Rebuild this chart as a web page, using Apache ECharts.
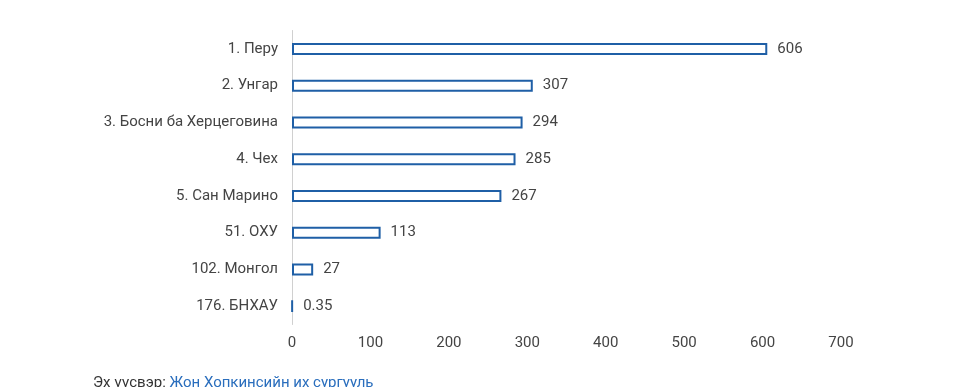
<!DOCTYPE html>
<html><head><meta charset="utf-8">
<script src="https://cdn.jsdelivr.net/npm/echarts@6/dist/echarts.min.js"></script>
<style>html,body{margin:0;padding:0;background:#fff}#c{width:962px;height:387px}</style>
</head><body><div id="c"></div>
<script>
const categories = ["1. Перу","2. Унгар","3. Босни ба Херцеговина","4. Чех","5. Сан Марино","51. ОХУ","102. Монгол","176. БНХАУ"];
const values = [606,307,294,285,267,113,27,0.35];
const xTicks = [0,100,200,300,400,500,600,700];

const chart = echarts.init(document.getElementById('c'));
chart.setOption({
  animation:false,
  grid:{left:292,right:121,top:30.5,bottom:62.5,containLabel:false},
  xAxis:{type:'value',min:xTicks[0],max:xTicks[xTicks.length-1],interval:100,
    axisLine:{show:false},axisTick:{show:false},splitLine:{show:false},
    axisLabel:{color:'#444',fontFamily:'Roboto',fontSize:15,margin:11}},
  yAxis:{type:'category',inverse:true,data:categories,
    axisLine:{show:true,lineStyle:{color:'#d0d0d0',width:1}},axisTick:{show:false},
    axisLabel:{color:'#444',fontFamily:'Roboto',fontSize:15,margin:14}},
  series:[{type:'bar',data:values,barWidth:12,
    itemStyle:{color:'#ffffff',borderColor:'#1f5fa6',borderWidth:2},
    label:{show:true,position:'right',distance:10,color:'#444',fontFamily:'Roboto',fontSize:15}}],
  graphic:[{type:'text',left:93,top:376,style:{rich:{a:{fill:'#333',fontFamily:'Roboto',fontSize:15},b:{fill:'#2a6ebd',fontFamily:'Roboto',fontSize:15}},text:'{a|Эх үүсвэр: }{b|Жон Хопкинсийн их сургууль}'}}]
});
</script></body></html>
